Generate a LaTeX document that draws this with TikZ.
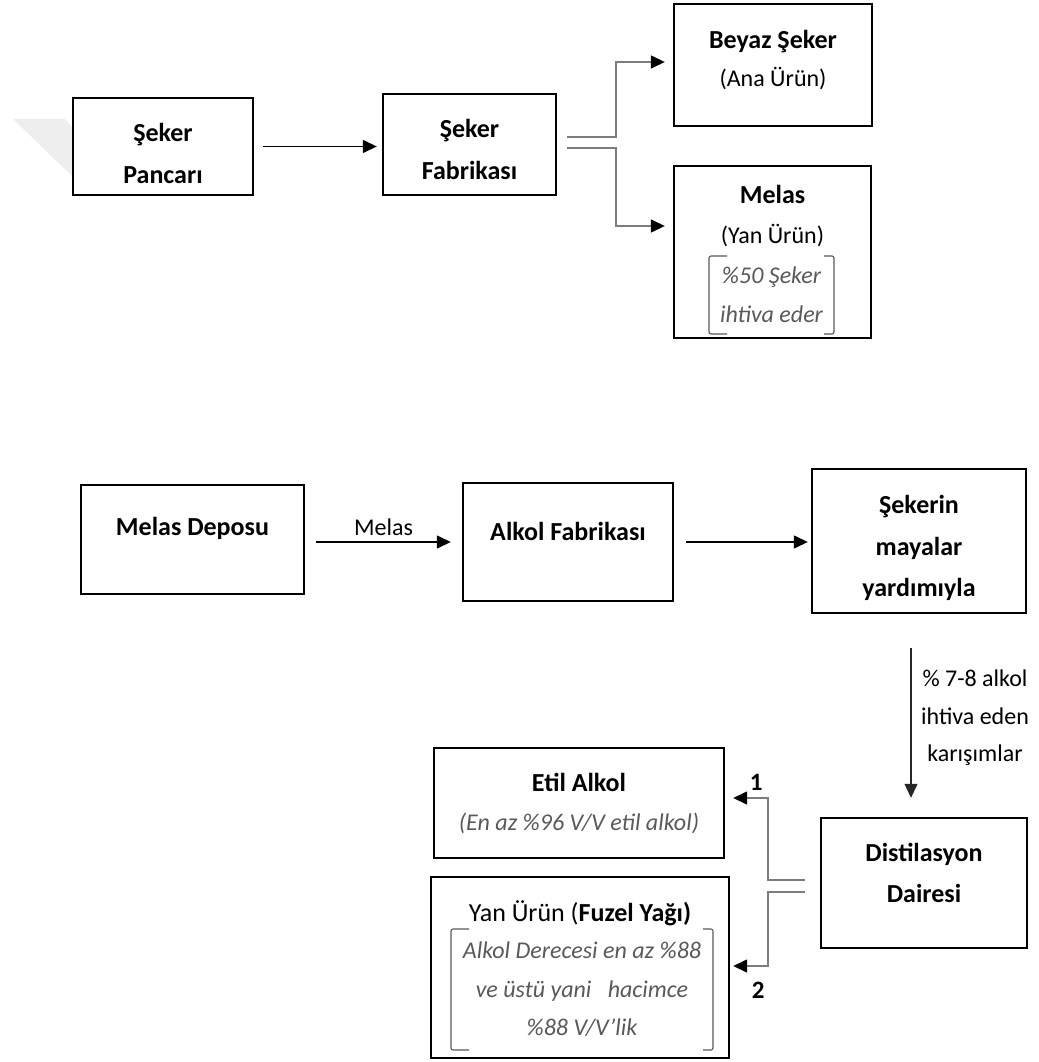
\documentclass[tikz,border=0pt]{standalone}
\usepackage{fontspec}
\setmainfont{Carlito}
\usepackage{xcolor}
\usetikzlibrary{arrows.meta, positioning, calc}
\definecolor{notegray}{RGB}{89,89,89}
\definecolor{linegray}{RGB}{125,125,125}
\definecolor{markgray}{RGB}{238,238,238}
\newcommand{\lines}[1]{\begin{tabular}[t]{@{}c@{}}#1\end{tabular}}

\begin{document}
\begin{tikzpicture}[
      x=1pt, y=-1pt,
      box/.style={rectangle, draw=black, line width=2.4pt, inner sep=0pt},
      lbl/.style={inner sep=0pt, anchor=base, font=\fontsize{26}{42}\selectfont\bfseries},
      plainlbl/.style={inner sep=0pt, font=\fontsize{24}{38}\selectfont},
      notelbl/.style={inner sep=0pt, outer sep=0pt, text=notegray,
                      font=\fontsize{24}{39}\selectfont\itshape},
      numlbl/.style={inner sep=0pt, font=\fontsize{25}{28}\selectfont\bfseries},
      arr/.style={-{Triangle[length=14pt, width=13pt]}, line width=1.4pt, draw=black},
      splitline/.style={-{Triangle[length=14pt, width=13pt, color=black]},
                        line width=1.5pt, draw=linegray},
      brk/.style={draw=notegray, line width=1.1pt, rounded corners=2pt}
    ]
    \useasboundingbox (0,0) rectangle (1038,1062);
    \fill[markgray] (13,119) -- (65,119) -- (73,128) -- (73,177) -- cycle;

    \node[box, minimum width=180, minimum height=97] (pancar) at (163,146.5) {};
    \node[box, minimum width=173, minimum height=101] (sfab) at (469.5,144.5) {};
    \node[box, minimum width=198, minimum height=122] (beyaz) at (773,65) {};
    \node[box, minimum width=197, minimum height=172] (melas) at (772.5,252) {};
    \node[box, minimum width=223, minimum height=109] (depo) at (192.5,539.5) {};
    \node[box, minimum width=210, minimum height=118] (afab) at (568,542) {};
    \node[box, minimum width=214, minimum height=144] (seker) at (919,541) {};
    \node[box, minimum width=206, minimum height=130] (dist) at (924,883) {};
    \node[box, minimum width=290, minimum height=110] (etil) at (579,803) {};
    \node[box, minimum width=298, minimum height=181] (fuzel) at (580,967.5) {};

    \node[lbl] (pancart) at ([yshift=-45pt]pancar.north) {\lines{Şeker\\Pancarı}};
    \node[lbl] (sfabt) at ([yshift=-45pt]sfab.north) {\lines{Şeker\\Fabrikası}};
    \node[lbl, font=\fontsize{26}{38}\selectfont\bfseries] (beyazt) at ([yshift=-46pt]beyaz.north)
      {\lines{Beyaz Şeker\\\mdseries\fontsize{24}{38}\selectfont (Ana Ürün)}};
    \node[lbl, font=\fontsize{26}{40}\selectfont\bfseries] (melast) at ([yshift=-39pt]melas.north)
      {\lines{Melas\\\mdseries\fontsize{24}{40}\selectfont (Yan Ürün)}};
    \node[notelbl, minimum width=125, minimum height=76] (mnote) at ([xshift=-1pt,yshift=-43pt]melas.center)
      {\lines{\%50 Şeker\\ihtiva eder}};
    \node[lbl] (depot) at ([yshift=-52pt]depo.north) {Melas Deposu};
    \node[lbl] (afabt) at ([yshift=-59pt]afab.north) {Alkol Fabrikası};
    \node[lbl, font=\fontsize{26}{41.5}\selectfont\bfseries] (sekert) at ([yshift=-46pt]seker.north)
      {\lines{Şekerin\\mayalar\\yardımıyla}};
    \node[lbl, font=\fontsize{26}{41}\selectfont\bfseries] (distt) at ([yshift=-45pt]dist.north)
      {\lines{Distilasyon\\Dairesi}};
    \node[lbl, font=\fontsize{26}{39}\selectfont\bfseries] (etilt) at ([yshift=-45pt]etil.north)
      {\lines{Etil Alkol\\\mdseries\itshape\color{notegray}\fontsize{24}{39}\selectfont (En az \%96 V/V etil alkol)}};
    \node[lbl, font=\fontsize{26}{42}\selectfont] (fuzelt) at ([yshift=-46pt]fuzel.north)
      {Yan Ürün (\textbf{Fuzel Yağı)}};
    \node[notelbl, font=\fontsize{24}{38.5}\selectfont\itshape, minimum width=262, minimum height=121] (fnote)
      at ([xshift=2pt,yshift=-22pt]fuzel.center)
      {\lines{Alkol Derecesi en az \%88\\ve üstü yani~~~hacimce\\\%88 V/V’lik}};

    \foreach \n in {mnote, fnote} {
      \draw[brk] ([xshift=18pt]\n.north west) -- (\n.north west) -- (\n.south west) -- ([xshift=18pt]\n.south west);
      \draw[brk] ([xshift=-10pt]\n.north east) -- (\n.north east) -- (\n.south east) -- ([xshift=-10pt]\n.south east);
    }

    \draw[arr, shorten <=9pt, shorten >=5pt] (pancar.east) -- (pancar.east -| sfab.west);
    \draw[splitline] ([xshift=10pt,yshift=7.5pt]sfab.east) -| ([xshift=-57pt,yshift=3pt]beyaz.west)
      -- ([xshift=-8pt,yshift=3pt]beyaz.west);
    \draw[splitline] ([xshift=10pt,yshift=-3.5pt]sfab.east) -| ([xshift=-57pt,yshift=26pt]melas.west)
      -- ([xshift=-8pt,yshift=26pt]melas.west);

    \draw[arr, shorten <=11pt, shorten >=11pt] (afab.west -| depo.east)
      -- node[plainlbl, above=6pt] (melaslbl) {Melas} (afab.west);
    \draw[arr, shorten <=12pt, shorten >=3pt] (afab.east) -- (afab.east -| seker.west);
    \draw[arr, line width=1.1pt, draw=black!85, shorten <=34pt, shorten >=19pt]
      ([xshift=-13pt]dist.north |- seker.south) -- ([xshift=-13pt]dist.north);
    \node[plainlbl, anchor=base, font=\fontsize{24}{37.5}\selectfont] (mixlbl)
      at ([xshift=51pt,yshift=130pt]dist.north) {\lines{\% 7-8 alkol\\ihtiva eden\\karışımlar}};

    \draw[splitline] ([xshift=-15pt,yshift=3pt]dist.west) -| ([xshift=43pt,yshift=5pt]etil.east)
      -- ([xshift=8pt,yshift=5pt]etil.east);
    \draw[splitline] ([xshift=-15pt,yshift=-9pt]dist.west) -| ([xshift=38pt,yshift=1.5pt]fuzel.east)
      -- ([xshift=3pt,yshift=1.5pt]fuzel.east);
    \node[numlbl] (n1) at ([xshift=31pt,yshift=21pt]etil.east) {1};
    \node[numlbl] (n2) at ([xshift=28pt,yshift=-22.5pt]fuzel.east) {2};
  \end{tikzpicture}
\end{document}
